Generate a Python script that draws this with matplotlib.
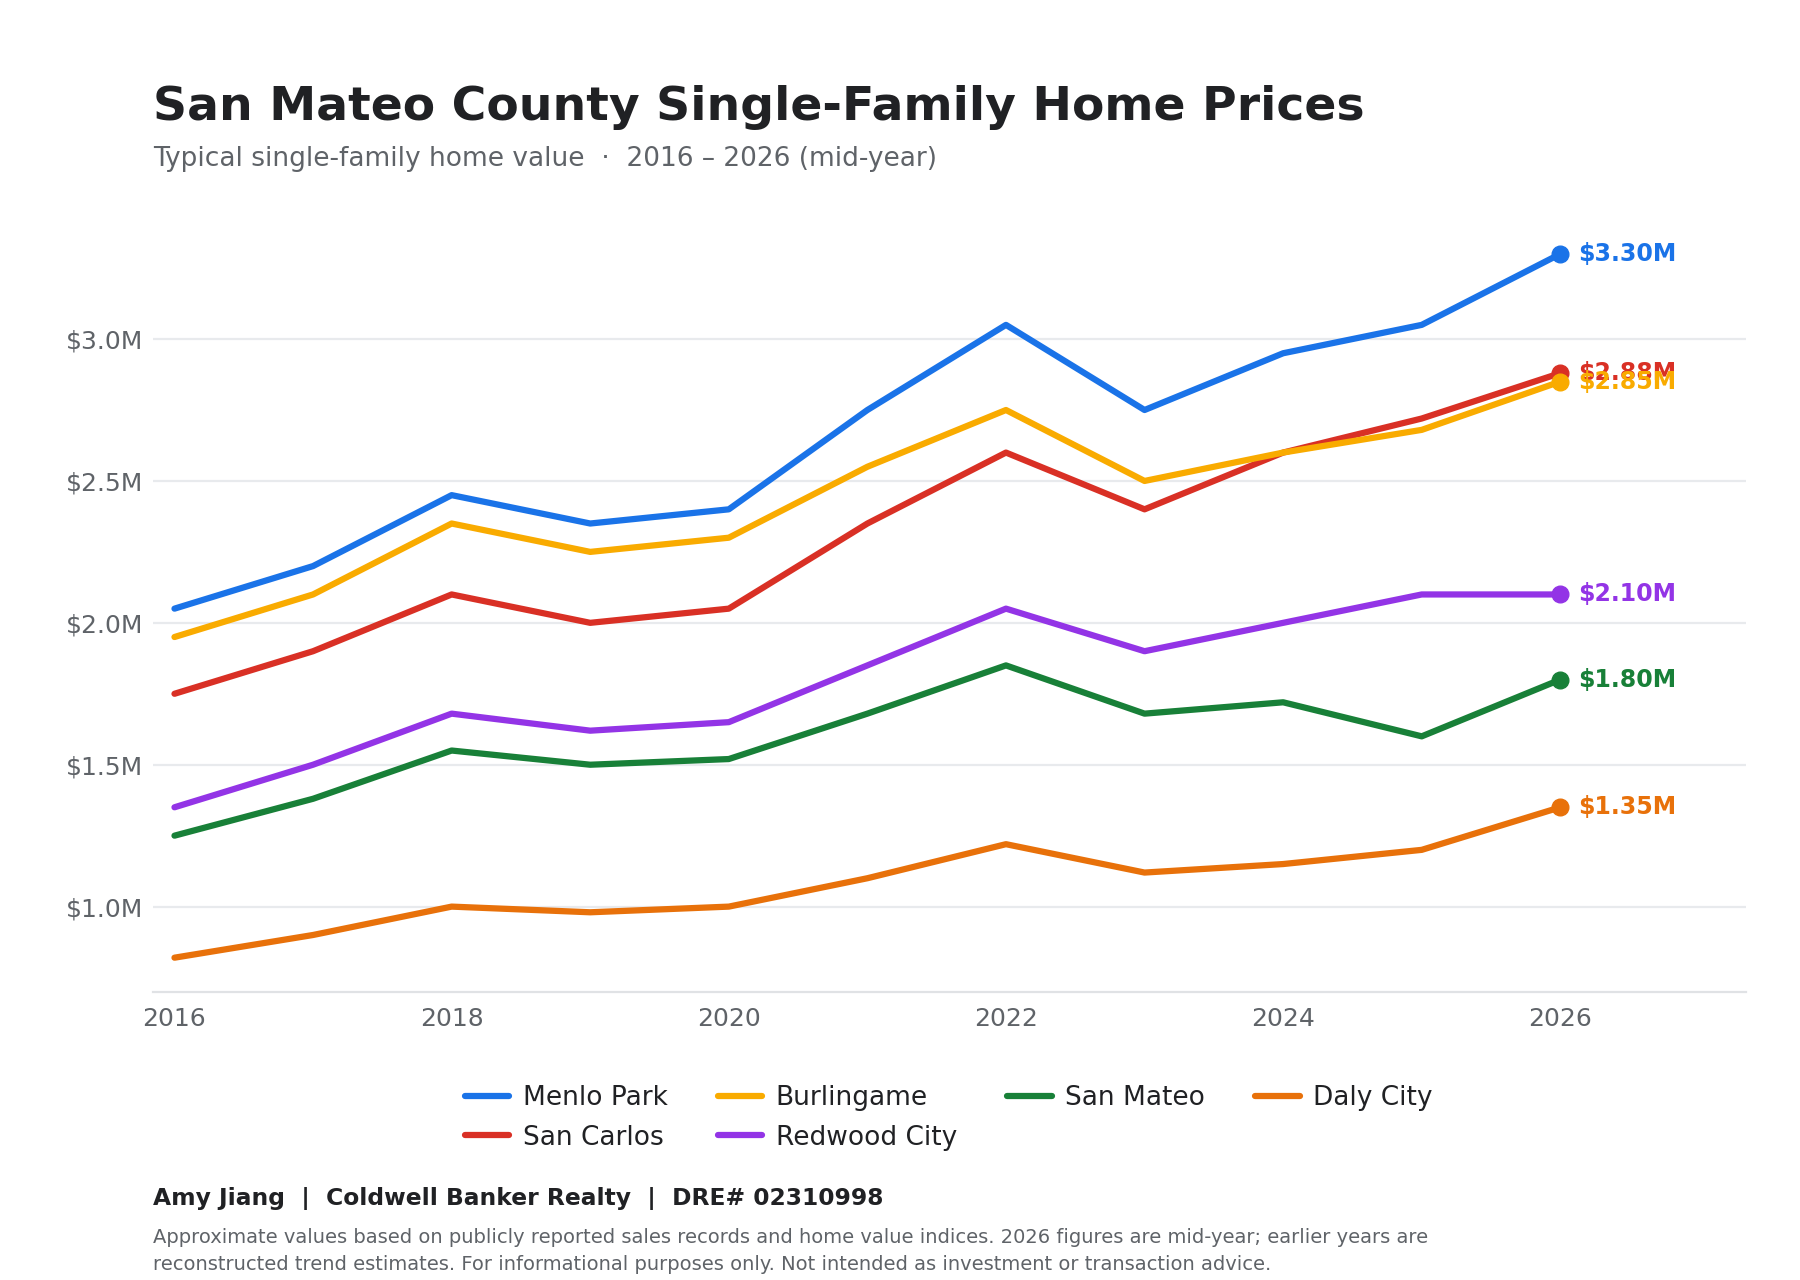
import matplotlib
matplotlib.use("Agg")
import matplotlib.pyplot as plt

years = [2016, 2017, 2018, 2019, 2020, 2021, 2022, 2023, 2024, 2025, 2026]

# values in $M
menlo_park = [2.05, 2.20, 2.45, 2.35, 2.40, 2.75, 3.05, 2.75, 2.95, 3.05, 3.30]
san_carlos = [1.75, 1.90, 2.10, 2.00, 2.05, 2.35, 2.60, 2.40, 2.60, 2.72, 2.88]
burlingame = [1.95, 2.10, 2.35, 2.25, 2.30, 2.55, 2.75, 2.50, 2.60, 2.68, 2.85]
redwood_city = [1.35, 1.50, 1.68, 1.62, 1.65, 1.85, 2.05, 1.90, 2.00, 2.10, 2.10]
san_mateo = [1.25, 1.38, 1.55, 1.50, 1.52, 1.68, 1.85, 1.68, 1.72, 1.60, 1.80]
daly_city = [0.82, 0.90, 1.00, 0.98, 1.00, 1.10, 1.22, 1.12, 1.15, 1.20, 1.35]

cities = ["Menlo Park", "San Carlos", "Burlingame", "Redwood City", "San Mateo", "Daly City"]
series = [menlo_park, san_carlos, burlingame, redwood_city, san_mateo, daly_city]
colors = ["#1a73e8", "#d93025", "#f9ab00", "#9334e6", "#188038", "#e8710a"]

y_ticks = [1.0, 1.5, 2.0, 2.5, 3.0]
x_ticks = [2016, 2018, 2020, 2022, 2024, 2026]

title = "San Mateo County Single-Family Home Prices"
subtitle = "Typical single-family home value  \u00b7  2016 \u2013 2026 (mid-year)"
byline = "Amy Jiang  |  Coldwell Banker Realty  |  DRE# 02310998"
note_1 = ("Approximate values based on publicly reported sales records and home value indices. "
          "2026 figures are mid-year; earlier years are")
note_2 = "reconstructed trend estimates. For informational purposes only. Not intended as investment or transaction advice."

plt.rcParams["font.family"] = ["DejaVu Sans"]

fig = plt.figure(figsize=(18, 12.8), dpi=100)
ax = fig.add_axes([0.085, 0.2252, 0.885, 0.613])

for name, vals, c in zip(cities, series, colors):
    ax.plot(years, vals, color=c, lw=4.5, solid_capstyle="round",
            solid_joinstyle="round", label=name)
    ax.plot(years[-1], vals[-1], "o", color=c, markersize=12)
    ax.annotate(f"${vals[-1]:.2f}M", (years[-1], vals[-1]), xytext=(13, 0),
                textcoords="offset points", ha="left", va="center",
                fontsize=17, fontweight="bold", color=c)

ax.set_xlim(2015.845, 2027.34)
ax.set_ylim(0.70, 3.465)
ax.set_xticks(x_ticks)
ax.set_xticklabels([str(x) for x in x_ticks])
ax.set_yticks(y_ticks)
ax.set_yticklabels([f"${v:.1f}M" for v in y_ticks])
ax.tick_params(length=0, labelsize=18, labelcolor="#5f6368")
ax.tick_params(axis="x", pad=11)
ax.tick_params(axis="y", pad=7)
ax.grid(axis="y", color="#e8eaed", lw=1.6)
ax.set_axisbelow(True)
for s in ["top", "right", "left"]:
    ax.spines[s].set_visible(False)
ax.spines["bottom"].set_color("#e0e2e5")
ax.spines["bottom"].set_linewidth(1.6)

fig.text(0.085, 0.906, title, fontsize=34, fontweight="bold", color="#202124", va="baseline")
fig.text(0.085, 0.870, subtitle, fontsize=19, color="#5f6368", va="baseline")

fig.legend(loc="center", bbox_to_anchor=(0.527, 0.1265), ncol=4, frameon=False,
           fontsize=19, handlelength=1.7, handletextpad=0.5, columnspacing=1.9,
           labelspacing=0.5, labelcolor="#202124")

fig.text(0.085, 1 - 1205 / 1280, byline, fontsize=16.8, fontweight="bold", color="#202124", va="baseline")
fig.text(0.085, 1 - 1243 / 1280, note_1, fontsize=14, color="#5f6368", va="baseline")
fig.text(0.085, 1 - 1270 / 1280, note_2, fontsize=14, color="#5f6368", va="baseline")

fig.savefig("out.png", dpi=100)
